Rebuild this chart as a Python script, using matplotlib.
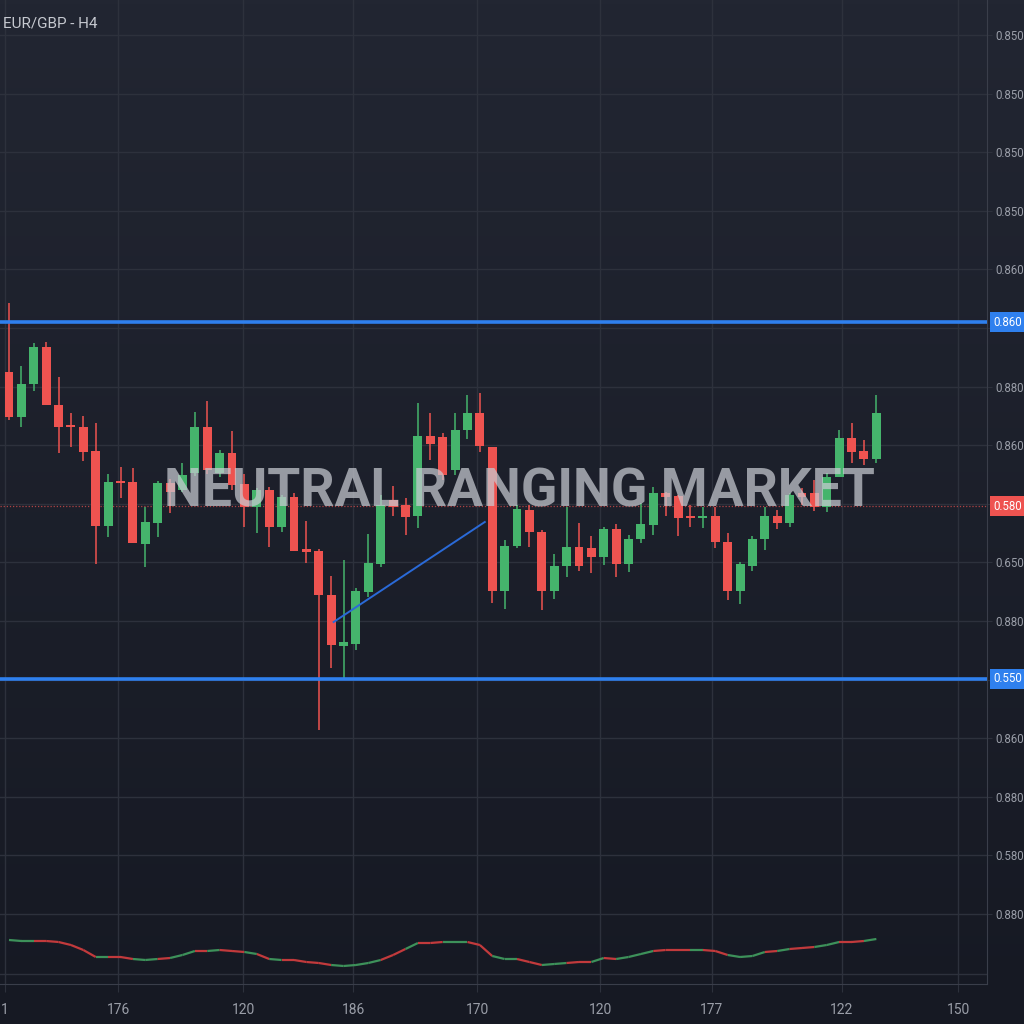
import numpy as np
import matplotlib
matplotlib.use('Agg')
import matplotlib.pyplot as plt
import matplotlib.transforms as mtransforms
from matplotlib.collections import LineCollection

# EUR/GBP H4 candles
opens = [0.85652, 0.85607, 0.85640, 0.85677, 0.85619, 0.85599, 0.85597, 0.85573, 0.85498, 0.85543,
         0.85542, 0.85480, 0.85501, 0.85541, 0.85534, 0.85551, 0.85597, 0.85551, 0.85571, 0.85540,
         0.85517, 0.85534, 0.85497, 0.85527, 0.85475, 0.85473, 0.85429, 0.85378, 0.85380, 0.85432,
         0.85460, 0.85524, 0.85519, 0.85508, 0.85588, 0.85587, 0.85554, 0.85594, 0.85611, 0.85577,
         0.85433, 0.85478, 0.85514, 0.85492, 0.85433, 0.85458, 0.85477, 0.85476, 0.85467, 0.85495,
         0.85460, 0.85485, 0.85499, 0.85531, 0.85528, 0.85508, 0.85506, 0.85508, 0.85482, 0.85433,
         0.85458, 0.85485, 0.85508, 0.85501, 0.85531, 0.85531, 0.85517, 0.85547, 0.85586, 0.85573,
         0.85565]
highs = [0.85721, 0.85658, 0.85681, 0.85682, 0.85647, 0.85611, 0.85608, 0.85601, 0.85550, 0.85557,
         0.85556, 0.85517, 0.85543, 0.85545, 0.85561, 0.85612, 0.85623, 0.85574, 0.85593, 0.85550,
         0.85536, 0.85537, 0.85529, 0.85531, 0.85503, 0.85475, 0.85448, 0.85464, 0.85436, 0.85490,
         0.85529, 0.85538, 0.85526, 0.85621, 0.85611, 0.85591, 0.85611, 0.85629, 0.85631, 0.85577,
         0.85484, 0.85519, 0.85519, 0.85494, 0.85470, 0.85517, 0.85501, 0.85488, 0.85497, 0.85500,
         0.85489, 0.85521, 0.85537, 0.85532, 0.85529, 0.85519, 0.85517, 0.85517, 0.85491, 0.85462,
         0.85488, 0.85517, 0.85514, 0.85531, 0.85536, 0.85544, 0.85551, 0.85594, 0.85601, 0.85584,
         0.85629]
lows = [0.85604, 0.85597, 0.85633, 0.85619, 0.85571, 0.85577, 0.85563, 0.85460, 0.85487, 0.85526,
        0.85481, 0.85457, 0.85487, 0.85511, 0.85532, 0.85548, 0.85550, 0.85547, 0.85534, 0.85497,
        0.85491, 0.85477, 0.85492, 0.85473, 0.85461, 0.85294, 0.85356, 0.85346, 0.85374, 0.85427,
        0.85457, 0.85508, 0.85489, 0.85496, 0.85564, 0.85544, 0.85549, 0.85585, 0.85572, 0.85421,
        0.85415, 0.85476, 0.85477, 0.85414, 0.85425, 0.85447, 0.85453, 0.85451, 0.85459, 0.85447,
        0.85452, 0.85481, 0.85489, 0.85508, 0.85488, 0.85497, 0.85496, 0.85476, 0.85424, 0.85420,
        0.85453, 0.85474, 0.85495, 0.85497, 0.85519, 0.85513, 0.85512, 0.85547, 0.85561, 0.85559,
        0.85561]
closes = [0.85607, 0.85640, 0.85677, 0.85619, 0.85597, 0.85597, 0.85572, 0.85498, 0.85542, 0.85541,
          0.85481, 0.85502, 0.85541, 0.85532, 0.85549, 0.85597, 0.85554, 0.85571, 0.85539, 0.85517,
          0.85534, 0.85497, 0.85527, 0.85473, 0.85472, 0.85429, 0.85379, 0.85382, 0.85433, 0.85461,
          0.85519, 0.85517, 0.85507, 0.85588, 0.85580, 0.85549, 0.85594, 0.85611, 0.85578, 0.85433,
          0.85478, 0.85515, 0.85492, 0.85433, 0.85458, 0.85477, 0.85458, 0.85467, 0.85495, 0.85460,
          0.85485, 0.85500, 0.85531, 0.85527, 0.85506, 0.85506, 0.85508, 0.85482, 0.85433, 0.85460,
          0.85485, 0.85508, 0.85501, 0.85529, 0.85527, 0.85517, 0.85547, 0.85586, 0.85572, 0.85565,
          0.85611]

# lower pane indicator
indicator = [60, 59, 59, 59, 58, 55, 50, 43, 43, 43, 41, 40, 41, 42, 45, 49, 49, 50, 49, 48,
             46, 41, 40, 40, 38, 37, 35, 34, 35, 37, 40, 45, 51, 57, 57, 58, 58, 58, 55, 44,
             41, 41, 38, 35, 36, 37, 38, 38, 42, 41, 43, 46, 49, 50, 50, 50, 50, 49, 45, 43,
             44, 48, 49, 51, 52, 53, 55, 58, 58, 59, 61]

resistance = 0.85702
support = 0.85345
last_price = 0.85518
trend_x = [26.2, 38.4]
trend_y = [0.85402, 0.85502]

y_ticks = [0.85989, 0.85930, 0.85872, 0.85813, 0.85755, 0.85696, 0.85637, 0.85579,
           0.85520, 0.85462, 0.85403, 0.85344, 0.85286, 0.85227, 0.85169, 0.85110]
y_labels = ['0.850', '0.850', '0.850', '0.850', '0.860', '', '0.880', '0.860',
            '', '0.650', '0.880', '', '0.860', '0.880', '0.580', '0.880']
x_ticks = [-0.35, 8.8, 18.9, 27.8, 37.8, 47.7, 56.7, 67.2, 76.6]
x_labels = ['1', '176', '120', '186', '170', '120', '177', '122', '150']

FONT = 'Roboto'
GREEN = '#45b46c'
RED = '#ee5350'
BLUE = '#2f80ee'
GRID = '#2d313c'
TXT = '#9a9ea8'

fig = plt.figure(figsize=(10.24, 10.24), dpi=100)

# background gradient
bg = fig.add_axes([0, 0, 1, 1], zorder=-10)
grad = np.linspace(0, 1, 256).reshape(-1, 1)
top_c = np.array([0x22, 0x26, 0x32]) / 255
bot_c = np.array([0x16, 0x19, 0x23]) / 255
img = top_c[None, None, :] * (1 - grad[:, :, None]) + bot_c[None, None, :] * grad[:, :, None]
bg.imshow(img, aspect='auto', extent=[0, 1, 0, 1])
bg.axis('off')

ax = fig.add_axes([0, 40 / 1024, 987 / 1024, 984 / 1024])
ax.set_facecolor('none')

x = np.arange(len(opens))
o = np.array(opens)
c = np.array(closes)
up = c >= o
cols = [GREEN if u else RED for u in up]
body = np.where(np.abs(c - o) < 0.00002, 0.00002, np.abs(c - o))
bottom = np.minimum(o, c)
ax.vlines(x, lows, highs, colors=cols, linewidth=1.1, zorder=3)
ax.bar(x, body, bottom=bottom, width=0.72, color=cols, zorder=4, linewidth=0)

ax.axhline(resistance, color=BLUE, lw=2.6, zorder=5)
ax.axhline(support, color=BLUE, lw=2.6, zorder=5)
ax.axhline(last_price, color=RED, lw=0.9, ls=(0, (1, 1.5)), alpha=0.7, zorder=2)
ax.plot(trend_x, trend_y, color='#2a6ad8', lw=1.4, zorder=5)

ax.set_xlim(-0.726, 78.93)
ax.set_ylim(0.85040, 0.86024)
ax.set_yticks(y_ticks)
ax.set_yticklabels(y_labels)
ax.set_xticks(x_ticks)
ax.set_xticklabels(x_labels)
ax.yaxis.tick_right()
ax.grid(True, color=GRID, lw=1.0, zorder=0)
ax.tick_params(axis='y', colors=GRID, labelcolor=TXT, labelsize=8.3, length=3.5, pad=2.5)
ax.tick_params(axis='x', colors=GRID, labelcolor=TXT, labelsize=10, length=6, pad=8)
for lab in ax.get_xticklabels() + ax.get_yticklabels():
    lab.set_family(FONT)
for s in ['top', 'left']:
    ax.spines[s].set_visible(False)
for s in ['right', 'bottom']:
    ax.spines[s].set_color('#3a3e4a')

# price boxes on the right scale
tr = mtransforms.blended_transform_factory(ax.transAxes, ax.transData)
for yv, lab, fc in [(resistance, '0.860', BLUE), (last_price, '0.580', RED), (support, '0.550', BLUE)]:
    ax.text(1.0065, yv, lab, transform=tr, ha='left', va='center', color='white', fontsize=8.3,
            family=FONT, zorder=10, clip_on=False,
            bbox=dict(boxstyle='square,pad=0.3', fc=fc, ec='none'))

ax.text(41.2, 0.85532, 'NEUTRAL RANGING MARKET', ha='center', va='center', fontsize=38.5,
        family=FONT, weight='bold', color='#c8cbd2', alpha=0.72, zorder=8)

fig.text(3 / 1024, 1 - 24 / 1024, 'EUR/GBP - H4', ha='left', va='center', fontsize=11,
         family=FONT, color='#c6c9d0')

# indicator pane
ax2 = fig.add_axes([0, 40 / 1024, 987 / 1024, 56 / 1024], sharex=ax)
ax2.set_facecolor('none')
ax2.set_ylim(16, 72)
ax2.axhline(26, color=GRID, lw=1.0)
pts = np.column_stack([x, indicator])
segs = [pts[i:i + 2] for i in range(len(pts) - 1)]
seg_cols = ['#3d915a' if up[i + 1] else '#c23a3c' for i in range(len(pts) - 1)]
ax2.add_collection(LineCollection(segs, colors=seg_cols, linewidths=1.6))
ax2.axis('off')

fig.savefig('out.png', dpi=100, facecolor='#1b1e29')
